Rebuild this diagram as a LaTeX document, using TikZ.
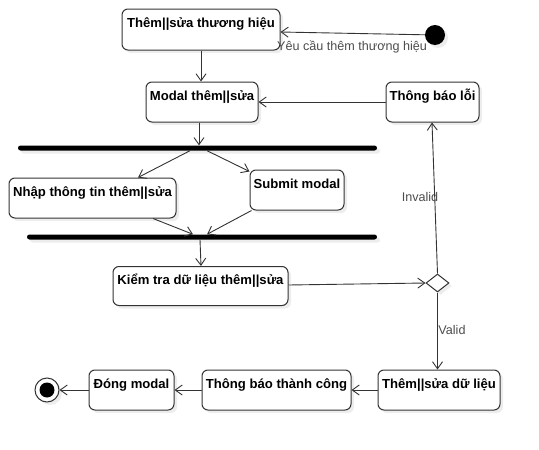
\documentclass[tikz,border=0pt]{standalone}
\usepackage{fontspec}
\setmainfont{Liberation Sans}
\usetikzlibrary{arrows.meta,shapes.geometric,shadows,calc}
\begin{document}
\begin{tikzpicture}[x=1pt,y=-1pt,
  shd/.style={drop shadow={shadow xshift=3pt,shadow yshift=-3pt,fill=black,opacity=0.07}},
  act/.style={draw=black!80, line width=1pt, rounded corners=6pt, fill=white, shd,
    font=\bfseries\fontsize{13.1}{15}\selectfont, inner xsep=2pt, inner ysep=0pt,
    text height=18pt, text depth=22pt, minimum height=40pt, anchor=center},
  bar/.style={fill=black, rounded corners=2.5pt, inner sep=0pt, minimum height=5pt, shd},
  conn/.style={draw=black!80, line width=0.9pt, -{Straight Barb[length=7pt,width=10pt]}},
  lbl/.style={font=\fontsize{12.6}{14}\selectfont, text=black!70, inner sep=0pt}
]
\useasboundingbox (0,0) rectangle (539,450);

% nodes
\node[act, minimum width=158pt, minimum height=41pt, text depth=23pt] (b1) at (201,29.5) {Thêm||sửa thương hiệu};
\node[act, minimum width=112pt] (modal) at (202,102) {Modal thêm||sửa};
\node[act, minimum width=93pt] (loi) at (432.5,102) {Thông báo lỗi};
\node[act, minimum width=167pt] (nhap) at (92.5,198) {Nhập thông tin thêm||sửa};
\node[act, minimum width=94pt] (submit) at (297,190) {Submit modal};
\node[act, minimum width=175pt, minimum height=39pt, text depth=21pt] (kiem) at (200.5,286) {Kiểm tra dữ liệu thêm||sửa};
\node[act, minimum width=122pt] (themdl) at (439,390) {Thêm||sửa dữ liệu};
\node[act, minimum width=149pt] (tbtc) at (276.5,390) {Thông báo thành công};
\node[act, minimum width=85pt] (dong) at (131.5,390) {Đóng modal};

\node[bar, minimum width=359pt] (bar1) at (197.5,148) {};
\node[bar, minimum width=350pt] (bar2) at (202,237) {};

\node[circle, fill=black, minimum size=20pt, inner sep=0pt, shd] (start) at (435,35) {};
\node[circle, draw=black!80, fill=white, line width=1pt, minimum size=24pt, inner sep=0pt, shd] (end) at (47,390) {};
\fill[black] (end.center) circle[radius=7.5pt];
\node[diamond, draw=black!80, fill=white, line width=1pt, minimum width=23pt, minimum height=18pt, inner sep=0pt, shd] (dec) at (437.5,283) {};

% connectors
\draw[conn] (start) -- ($(b1.east)+(0,2.5)$);
\draw[conn] (b1.south) -- (b1.south |- modal.north);
\draw[conn] (loi.west) -- (modal.east);
\draw[conn] ($(modal.south)+(-3,0)$) -- ($(bar1.north)+(1.5,0)$);
\draw[conn] ($(bar1.south)+(-7.5,0)$) -- ($(nhap.north)+(45.5,0)$);
\draw[conn] ($(bar1.south)+(9.5,0)$) -- ($(submit.north west)+(0,2)$);
\draw[conn] ($(nhap.south)+(60.5,0)$) -- ($(bar2.north)+(-9,0)$);
\draw[conn] ($(submit.south west)+(2,0)$) -- ($(bar2.north)+(5,0)$);
\draw[conn] ($(bar2.south)+(-2,0)$) -- ($(kiem.north)+(0.5,0)$);
\draw[conn] ($(kiem.east)+(0,-1)$) -- (dec.west);
\draw[conn] (dec.north) -- ($(loi.south)+(-0.5,0)$);
\draw[conn] (dec.south) -- (dec.south |- themdl.north);
\draw[conn] (themdl.west) -- (tbtc.east);
\draw[conn] (tbtc.west) -- (dong.east);
\draw[conn] (dong.west) -- (end.east);

% labels
\node[lbl] (lyc) at (352,47) {Yêu cầu thêm thương hiệu};
\node[lbl] (linv) at (420,197) {Invalid};
\node[lbl] (lval) at (452,330) {Valid};
\end{tikzpicture}
\end{document}
